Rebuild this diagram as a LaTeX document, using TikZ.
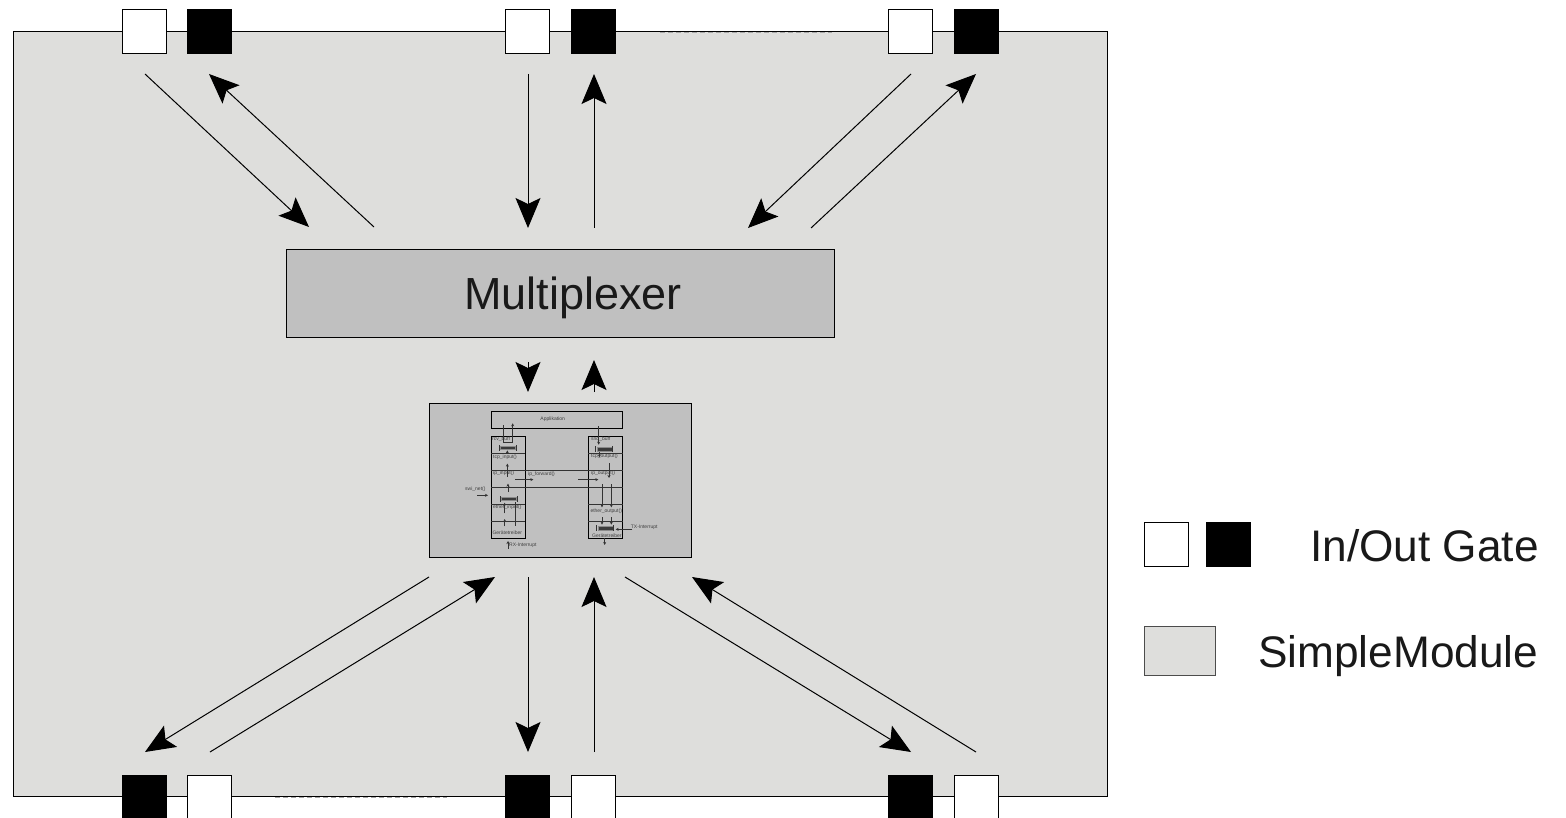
\documentclass[tikz,border=0pt]{standalone}
\usepackage{fontspec}
\setmainfont{Liberation Sans}
\usetikzlibrary{arrows.meta}
\definecolor{modfill}{HTML}{DEDEDC}
\definecolor{muxfill}{HTML}{C0C0C0}
\definecolor{bufdark}{HTML}{3A3A3A}
\definecolor{buflite}{HTML}{8A8A8A}
\definecolor{inktext}{HTML}{404040}
\tikzset{
  box/.style={draw=black,rectangle,inner sep=0pt,outer sep=0pt,line width=0.9pt,anchor=north west},
  whitegate/.style={box,fill=white,minimum width=44.5pt,minimum height=44.5pt},
  blackgate/.style={box,fill=black,minimum width=44.5pt,minimum height=44.5pt},
  flow/.style={line width=1pt,draw=black,-{Stealth[length=30pt,width=25pt,inset=6pt]}},
  mini/.style={line width=0.8pt,draw=black!80,-{Stealth[length=3pt,width=3pt]}},
  miniline/.style={line width=0.8pt,draw=black!80},
  tiny/.style={font=\fontsize{5}{6}\selectfont,text=inktext,inner sep=0pt,anchor=west},
  big/.style={font=\fontsize{44.2}{50}\selectfont,text=black!90,inner sep=0pt},
  buf/.style={draw=buflite,fill=bufdark,line width=0.6pt,rectangle,inner sep=0pt,minimum width=15pt,minimum height=3.6pt},
  faint/.style={draw=black!35,line width=0.7pt,dash pattern=on 5pt off 3pt},
}
% name, x1,y1, x2,y2, style
\newcommand{\conn}[6]{\coordinate (#1a) at (#2,#3);\coordinate (#1b) at (#4,#5);\draw[#6] (#1a) -- (#1b);}
\begin{document}
\begin{tikzpicture}[x=1pt,y=-1pt]
\useasboundingbox (0,0) rectangle (1566,818);
\node[box,fill=modfill,minimum width=1094.5pt,minimum height=765pt] (module) at (13,31) {};
\conn{ftop}{660}{32.1}{832}{32.1}{faint}
\conn{fbot}{275}{797.6}{447}{797.6}{faint}
% top gates
\node[whitegate] (t1i) at (122,9) {};
\node[blackgate] (t1o) at (187,9) {};
\node[whitegate] (t2i) at (505,9) {};
\node[blackgate] (t2o) at (571,9) {};
\node[whitegate] (t3i) at (888,9) {};
\node[blackgate] (t3o) at (954,9) {};
% bottom gates
\node[blackgate] (b1o) at (122,775) {};
\node[whitegate] (b1i) at (187,775) {};
\node[blackgate] (b2o) at (505,775) {};
\node[whitegate] (b2i) at (571,775) {};
\node[blackgate] (b3o) at (888,775) {};
\node[whitegate] (b3i) at (954,775) {};
% multiplexer and stack
\node[box,fill=muxfill,minimum width=548.5pt,minimum height=88pt] (mux) at (286,249) {};
\node[big,font=\fontsize{45}{50}\selectfont,anchor=base] (muxlabel) at (573,309) {Multiplexer};
\node[box,fill=muxfill,minimum width=262.5pt,minimum height=154pt] (stack) at (429,403) {};
% main arrows
\conn{a1}{145}{74}{309}{227}{flow}
\conn{a2}{374}{227}{209}{74}{flow}
\conn{a3}{528}{74}{528}{228}{flow}
\conn{a4}{594}{228}{594}{74}{flow}
\conn{a5}{911}{74}{748}{228}{flow}
\conn{a6}{811}{228}{976}{74}{flow}
\conn{a7}{528}{362}{528}{392}{flow}
\conn{a8}{594}{392}{594}{360}{flow}
\conn{a9}{429}{577}{145}{752}{flow}
\conn{a10}{210}{752}{495}{577}{flow}
\conn{a11}{528}{577}{528}{752}{flow}
\conn{a12}{594}{752}{594}{577}{flow}
\conn{a13}{625}{577}{911}{752}{flow}
\conn{a14}{976}{752}{692}{577}{flow}
% legend
\node[whitegate] (legi) at (1144,522) {};
\node[blackgate] (lego) at (1206,522) {};
\node[big,anchor=base west] (legio) at (1310,561) {In/Out Gate};
\node[box,fill=modfill,draw=black!70,minimum width=71.5pt,minimum height=49.5pt] (legm) at (1144,626) {};
\node[big,anchor=base west] (legsm) at (1258,667) {SimpleModule};
% stack detail, in units of one third of a pixel
\begin{scope}[shift={(429,400)},x=0.33333pt,y=-0.33333pt]
\node[box,minimum width=131.7pt,minimum height=17pt] (app) at (186,34) {};
\node[tiny,anchor=center] (applabel) at (371,58) {Applikation};
\node[box,minimum width=34.3pt,minimum height=102.3pt] (lcol) at (186,109) {};
\node[box,minimum width=34.3pt,minimum height=102.3pt] (rcol) at (478,109) {};
\conn{l1}{186}{160}{289}{160}{miniline}
\conn{l2}{186}{211}{581}{211}{miniline}
\conn{l3}{186}{263}{581}{263}{miniline}
\conn{l4}{186}{314}{289}{314}{miniline}
\conn{l5}{186}{365}{289}{365}{miniline}
\conn{r1}{478}{160}{581}{160}{miniline}
\conn{r4}{478}{314}{581}{314}{miniline}
\conn{r5}{478}{365}{581}{365}{miniline}
% labels
\node[tiny] (t1) at (189,118) {rcv\_buff};
\node[tiny] (t2) at (192,172) {tcp\_input()};
\node[tiny] (t3) at (192,220) {ip\_input()};
\node[tiny] (t4) at (297,223) {ip\_forward()};
\node[tiny] (t5) at (108,268) {swi\_net()};
\node[tiny] (t6) at (192,322) {ether\_input()};
\node[tiny] (t7) at (190,397) {Gerätetreiber};
\node[tiny] (t8) at (240,436) {RX-Interrupt};
\node[tiny] (t9) at (486,118) {snd\_buff};
\node[tiny] (t10) at (486,169) {tcp\_output()};
\node[tiny] (t11) at (486,220) {ip\_output()};
\node[tiny] (t12) at (484,334) {ether\_output()};
\node[tiny] (t13) at (489,406) {Gerätetreiber};
\node[tiny] (t14) at (605,381) {TX-Interrupt};
% buffers
\node[buf] (bufa) at (235,143.5) {};
\conn{ba1}{210}{135}{210}{152}{miniline}
\conn{ba2}{262}{135}{262}{152}{miniline}
\node[buf] (bufb) at (239,296.5) {};
\conn{bb1}{214}{289}{214}{306}{miniline}
\conn{bb2}{265}{289}{265}{306}{miniline}
\node[buf] (bufc) at (526,148) {};
\conn{bc1}{500}{138}{500}{155}{miniline}
\conn{bc2}{551}{138}{551}{155}{miniline}
\node[buf] (bufd) at (529,385.5) {};
\conn{bd1}{502}{376}{502}{393}{miniline}
\conn{bd2}{554}{376}{554}{393}{miniline}
% arrows
\conn{m1}{223}{75}{223}{128}{miniline}
\conn{m2}{223}{128}{251}{128}{miniline}
\conn{m3}{251}{128}{251}{70}{mini}
\conn{m4}{235}{162}{235}{151}{mini}
\conn{m5}{235}{230}{235}{191}{mini}
\conn{m6}{237}{276}{237}{251}{mini}
\conn{m7}{258}{239}{313}{239}{mini}
\conn{m8}{448}{239}{508}{239}{mini}
\conn{m9}{145}{286}{177}{286}{mini}
\conn{m10}{227}{340}{227}{308}{mini}
\conn{m11}{258}{306}{258}{378}{miniline}
\conn{m12}{227}{379}{227}{357}{mini}
\conn{m13}{237}{446}{237}{423}{mini}
\conn{m14}{509}{78}{509}{134}{mini}
\conn{m15}{511}{155}{511}{172}{mini}
\conn{m16}{540}{190}{540}{234}{mini}
\conn{m17}{519}{252}{519}{322}{mini}
\conn{m18}{547}{252}{547}{322}{mini}
\conn{m19}{519}{351}{519}{374}{mini}
\conn{m20}{547}{351}{547}{374}{mini}
\conn{m21}{610}{388}{560}{388}{mini}
\conn{m22}{527}{415}{527}{435}{mini}
\end{scope}
\end{tikzpicture}
\end{document}
